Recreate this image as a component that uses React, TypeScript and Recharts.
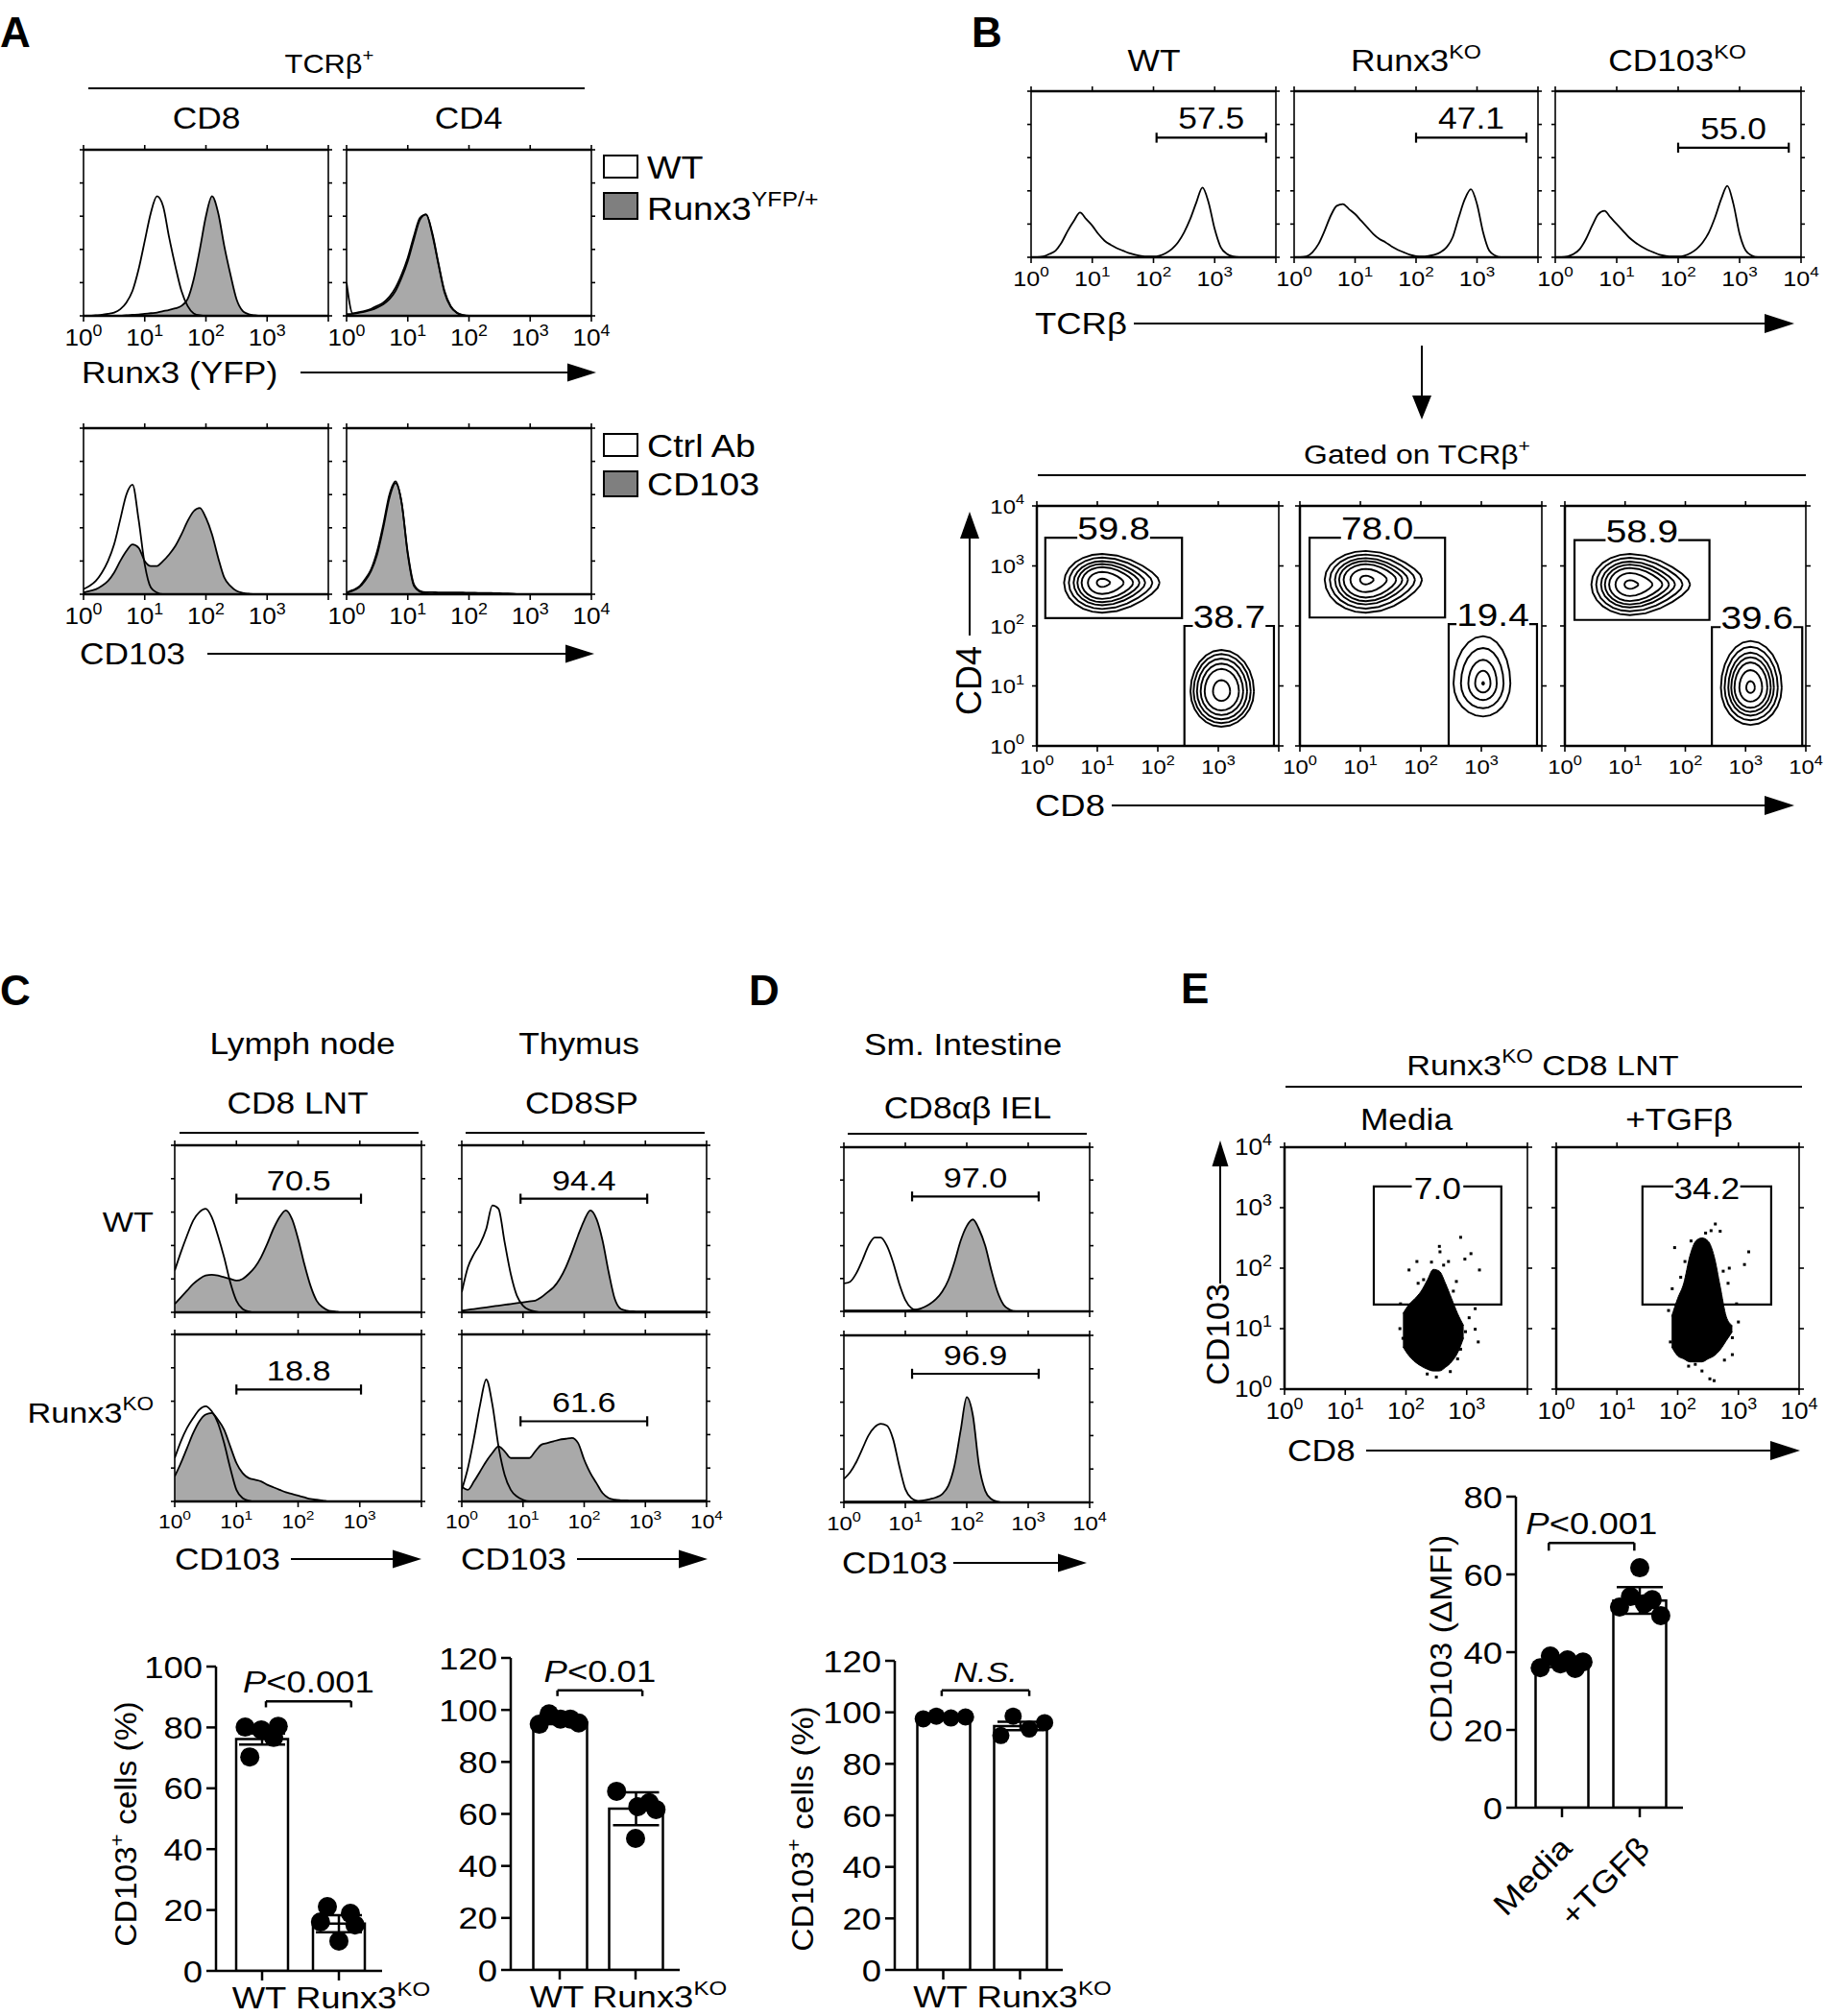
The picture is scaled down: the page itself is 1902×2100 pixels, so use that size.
import React from 'react'
import {
  ComposedChart,
  Area,
  Scatter,
  Bar,
  ErrorBar,
  XAxis,
  YAxis,
  ReferenceLine,
  ReferenceArea,
} from 'recharts'

const FF = '"Liberation Sans", Arial, Helvetica, sans-serif'
const GRAY = '#a9a9a9'
const LEGEND_GRAY = '#7f7f7f'
// the figure's lettering is set a little wider than Arial
const SX = 1.14

// shared x grid for the histograms, in log10 decades (10^0 .. 10^4)
const LOGX = [0, 0.1, 0.2, 0.3, 0.4, 0.5, 0.6, 0.7, 0.8, 0.9, 1, 1.1, 1.2, 1.3, 1.4, 1.5, 1.6, 1.7, 1.8, 1.9, 2, 2.1, 2.2, 2.3, 2.4, 2.5, 2.6, 2.7, 2.8, 2.9, 3, 3.1, 3.2, 3.3, 3.4, 3.5, 3.6, 3.7, 3.8, 3.9, 4]
const DECADES = [0, 1, 2, 3, 4]
const HIST_YT = [0, 0.2, 0.4, 0.6, 0.8, 1]

// panel A, histograms (fraction of plot height)
const A_TOP_CD8_WT = [0, 0, 0.003, 0.006, 0.012, 0.02, 0.04, 0.08, 0.15, 0.28, 0.45, 0.62, 0.72, 0.66, 0.47, 0.3, 0.15, 0.06, 0.015, 0.003, 0]
const A_TOP_CD8_YFP = [0, 0, 0, 0, 0, 0, 0, 0.004, 0.006, 0.008, 0.012, 0.016, 0.02, 0.028, 0.036, 0.045, 0.06, 0.1, 0.22, 0.4, 0.6, 0.72, 0.62, 0.42, 0.25, 0.1, 0.03, 0.01, 0.003, 0]
const A_TOP_CD4_WT = [0.2, 0.015, 0.022, 0.03, 0.042, 0.06, 0.08, 0.115, 0.17, 0.25, 0.35, 0.48, 0.59, 0.61, 0.49, 0.31, 0.14, 0.055, 0.018, 0.004, 0]
const A_TOP_CD4_YFP = [0.01, 0.012, 0.018, 0.025, 0.035, 0.05, 0.07, 0.1, 0.15, 0.23, 0.33, 0.46, 0.58, 0.61, 0.5, 0.32, 0.15, 0.06, 0.02, 0.005, 0]
const A_BOT_CD8_CTRL = [0.03, 0.05, 0.08, 0.13, 0.2, 0.3, 0.45, 0.6, 0.66, 0.45, 0.18, 0.04, 0.01, 0]
const A_BOT_CD8_CD103 = [0.01, 0.02, 0.03, 0.05, 0.08, 0.13, 0.2, 0.26, 0.3, 0.28, 0.2, 0.17, 0.17, 0.2, 0.24, 0.29, 0.36, 0.44, 0.5, 0.52, 0.46, 0.36, 0.22, 0.1, 0.05, 0.02, 0.008, 0.003, 0]
const A_BOT_CD4_CTRL = [0.01, 0.025, 0.045, 0.09, 0.15, 0.26, 0.42, 0.6, 0.68, 0.55, 0.24, 0.05, 0.015, 0.005, 0]
const A_BOT_CD4_CD103 = [0.01, 0.02, 0.04, 0.08, 0.14, 0.24, 0.4, 0.58, 0.67, 0.55, 0.25, 0.06, 0.02, 0.012, 0.012, 0.011, 0.011, 0.01, 0.01, 0.01, 0.009, 0.009, 0.008, 0.008, 0.007, 0.006, 0.005, 0.004, 0]

// panel B, TCRb histograms
const B_WT = [0, 0, 0.005, 0.02, 0.04, 0.09, 0.16, 0.22, 0.27, 0.23, 0.19, 0.14, 0.1, 0.075, 0.055, 0.04, 0.025, 0.015, 0.008, 0.005, 0.005, 0.01, 0.025, 0.05, 0.09, 0.15, 0.23, 0.33, 0.42, 0.33, 0.17, 0.06, 0.02, 0.005, 0]
const B_KO = [0, 0, 0.005, 0.03, 0.08, 0.16, 0.25, 0.31, 0.32, 0.29, 0.26, 0.22, 0.18, 0.14, 0.11, 0.09, 0.065, 0.045, 0.03, 0.015, 0.007, 0.005, 0.008, 0.015, 0.03, 0.06, 0.12, 0.24, 0.35, 0.41, 0.32, 0.15, 0.04, 0.01, 0]
const B_CD103KO = [0, 0, 0.005, 0.02, 0.05, 0.11, 0.19, 0.26, 0.28, 0.24, 0.2, 0.16, 0.12, 0.09, 0.065, 0.045, 0.03, 0.015, 0.008, 0.005, 0.005, 0.01, 0.025, 0.05, 0.09, 0.15, 0.24, 0.35, 0.43, 0.32, 0.14, 0.04, 0.01, 0]

// panel B, CD4/CD8 contour populations (log10 units) and ring scales
const B1_CD4 = { cx: 1.08, cy: 2.72, L: 0.63, R: 0.95, U: 0.48, D: 0.5, tip: 0.35 }
const B1_CD8 = { cx: 3.05, cy: 0.91, L: 0.51, R: 0.54, U: 0.69, D: 0.59, tip: 0 }
const B2_CD4 = { cx: 1.09, cy: 2.77, L: 0.68, R: 0.93, U: 0.48, D: 0.55, tip: 0.35 }
const B2_CD8 = { cx: 3.03, cy: 1.04, L: 0.49, R: 0.45, U: 0.79, D: 0.55, tip: 0 }
const B3_CD4 = { cx: 1.08, cy: 2.69, L: 0.64, R: 1.0, U: 0.51, D: 0.51, tip: 0.4 }
const B3_CD8 = { cx: 3.08, cy: 0.97, L: 0.49, R: 0.52, U: 0.78, D: 0.62, tip: 0 }
const RINGS7 = [1, 0.875, 0.75, 0.65, 0.54, 0.375, 0.14]
const RINGS6 = [1, 0.9, 0.79, 0.67, 0.54, 0.27]
const RINGS4 = [1, 0.75, 0.5, 0.27, 0.03]
const RING_ANGLES = [0, 15, 30, 45, 60, 75, 90, 105, 120, 135, 150, 165, 180, 195, 210, 225, 240, 255, 270, 285, 300, 315, 330, 345]

// panel C histograms
const C_LN_WT_CTRL = [0.25, 0.36, 0.46, 0.55, 0.6, 0.62, 0.57, 0.46, 0.33, 0.18, 0.07, 0.02, 0.005, 0]
const C_LN_WT_CD103 = [0.05, 0.09, 0.13, 0.17, 0.2, 0.22, 0.225, 0.22, 0.21, 0.2, 0.19, 0.2, 0.23, 0.27, 0.33, 0.41, 0.5, 0.57, 0.61, 0.56, 0.44, 0.29, 0.16, 0.07, 0.03, 0.01, 0.005, 0]
const C_LN_KO_CTRL = [0.26, 0.36, 0.44, 0.5, 0.55, 0.57, 0.54, 0.47, 0.35, 0.2, 0.07, 0.02, 0.005, 0]
const C_LN_KO_CD103 = [0.15, 0.23, 0.32, 0.41, 0.48, 0.52, 0.53, 0.49, 0.43, 0.33, 0.23, 0.17, 0.14, 0.13, 0.12, 0.1, 0.085, 0.07, 0.055, 0.045, 0.035, 0.025, 0.015, 0.01, 0.005, 0]
const C_TH_WT_CTRL = [0.12, 0.27, 0.35, 0.41, 0.5, 0.64, 0.62, 0.42, 0.23, 0.1, 0.04, 0.015, 0.005, 0]
const C_TH_WT_CD103 = [0.01, 0.015, 0.02, 0.025, 0.03, 0.035, 0.04, 0.045, 0.05, 0.055, 0.06, 0.065, 0.07, 0.09, 0.12, 0.15, 0.2, 0.27, 0.36, 0.46, 0.55, 0.61, 0.56, 0.43, 0.24, 0.08, 0.02, 0.01, 0.006, 0.005, 0.005, 0.005, 0.005, 0.005, 0.005, 0.005, 0.005, 0.005, 0.005, 0.005, 0.005]
const C_TH_KO_CTRL = [0.07, 0.2, 0.38, 0.58, 0.73, 0.58, 0.33, 0.16, 0.07, 0.03, 0.01, 0]
const C_TH_KO_CD103 = [0.09, 0.07, 0.12, 0.18, 0.24, 0.29, 0.33, 0.3, 0.26, 0.26, 0.26, 0.26, 0.3, 0.34, 0.35, 0.36, 0.37, 0.375, 0.38, 0.35, 0.25, 0.17, 0.11, 0.05, 0.02, 0.01, 0.007, 0.006, 0.005, 0.005, 0.005, 0.005, 0.005, 0.005, 0.005, 0.005, 0.005, 0.005, 0.005, 0.005, 0.005]

// panel D histograms
const D_WT_CTRL = [0.17, 0.18, 0.23, 0.31, 0.4, 0.45, 0.45, 0.4, 0.3, 0.17, 0.07, 0.02, 0.005, 0]
const D_WT_CD103 = [0.005, 0.005, 0.005, 0.005, 0.005, 0.005, 0.005, 0.005, 0.005, 0.005, 0.005, 0.008, 0.012, 0.025, 0.045, 0.075, 0.12, 0.19, 0.3, 0.43, 0.52, 0.56, 0.5, 0.4, 0.25, 0.12, 0.04, 0.01, 0]
const D_KO_CTRL = [0.14, 0.18, 0.24, 0.32, 0.4, 0.45, 0.47, 0.46, 0.38, 0.22, 0.08, 0.025, 0.008, 0]
const D_KO_CD103 = [0.005, 0.005, 0.005, 0.005, 0.005, 0.005, 0.005, 0.005, 0.005, 0.005, 0.005, 0.005, 0.008, 0.012, 0.02, 0.03, 0.05, 0.1, 0.22, 0.43, 0.63, 0.52, 0.22, 0.07, 0.02, 0.005, 0]

// panel E, dense cores of the dot plots (lower / upper edge per CD8 column) and stray events
const E_MEDIA_X = [1.95, 2.05, 2.15, 2.25, 2.35, 2.45, 2.55, 2.65, 2.75, 2.85, 2.95]
const E_MEDIA_LO = [0.7, 0.55, 0.45, 0.38, 0.33, 0.3, 0.3, 0.36, 0.45, 0.6, 0.85]
const E_MEDIA_HI = [1.25, 1.4, 1.5, 1.62, 1.8, 1.98, 1.95, 1.75, 1.5, 1.25, 1.05]
const E_MEDIA_STRAY = [[2.9, 2.51], [2.56, 2.27], [3.07, 2.24], [3.21, 1.97], [2.18, 2.11], [2.05, 1.97], [2.97, 2.15], [2.7, 2.11], [3.14, 0.99], [3.19, 0.78], [3.14, 1.33], [3.04, 1.18], [2.73, 0.29], [2.39, 0.38], [2.01, 1.08], [1.95, 0.84], [2.09, 1.27], [2.29, 0.41], [2.55, 2.36], [2.83, 1.78], [2.29, 1.81], [2.9, 0.66], [2.66, 0.41], [1.91, 1.41], [2.42, 2.1], [2.62, 2.05], [2.2, 1.75], [2.78, 1.62], [1.9, 1.0], [2.05, 0.62], [2.98, 0.95], [2.5, 0.2], [2.35, 0.25], [2.85, 0.5]]
const E_TGF_X = [1.9, 2.0, 2.1, 2.2, 2.3, 2.4, 2.5, 2.6, 2.7, 2.8, 2.9]
const E_TGF_LO = [0.7, 0.55, 0.5, 0.45, 0.45, 0.45, 0.5, 0.55, 0.65, 0.8, 0.95]
const E_TGF_HI = [1.2, 1.5, 1.75, 2.2, 2.45, 2.5, 2.45, 2.2, 1.7, 1.2, 1.05]
const E_TGF_STRAY = [[1.95, 2.34], [2.62, 2.73], [2.7, 2.61], [3.17, 2.27], [3.1, 2.06], [1.91, 1.66], [3.0, 1.11], [2.9, 0.57], [2.53, 0.17], [2.6, 0.14], [1.95, 1.11], [2.06, 0.66], [2.22, 2.45], [2.12, 2.11], [2.83, 1.75], [2.97, 1.41], [1.88, 0.78], [2.77, 0.48], [2.29, 0.41], [2.46, 2.58], [2.05, 1.85], [1.85, 1.3], [2.85, 2.0], [2.75, 1.95], [1.98, 0.9], [2.9, 0.85], [2.4, 0.3], [2.18, 0.38], [2.55, 2.62], [2.02, 1.45]]

// bar charts
const KO_CATS = ['WT', 'Runx3KO']
const C_LN_MEANS = [76.2, 15.5]
const C_LN_ERR = [1.8, 2.8]
const C_LN_WT = [80.1, 79.2, 80.4, 76.7, 70.3]
const C_LN_WT_JIT = [-0.22, -0.01, 0.21, 0.15, -0.16]
const C_LN_KO = [21.1, 16.1, 18.9, 15.1, 9.8]
const C_LN_KO_JIT = [-0.15, -0.24, 0.15, 0.21, 0]
const C_TH_MEANS = [95.3, 62]
const C_TH_ERR = [0.8, 6.3]
const C_TH_WT = [94.5, 98.5, 96.5, 96.5, 95]
const C_TH_WT_JIT = [-0.27, -0.14, 0.01, 0.14, 0.25]
const C_TH_KO = [68.7, 62.8, 64.3, 61.7, 50.6]
const C_TH_KO_JIT = [-0.25, 0.03, 0.18, 0.27, 0]
const D_MEANS = [97.8, 94.7]
const D_ERR = [0.5, 1.6]
const D_WT = [97.5, 98.5, 97.8, 98.2]
const D_WT_JIT = [-0.26, -0.09, 0.1, 0.29]
const D_KO = [91, 98.5, 93.5, 96]
const D_KO_JIT = [-0.25, -0.09, 0.12, 0.32]
const E_CATS = ['Media', '+TGFβ']
const E_MEANS = [36.8, 53.3]
const E_ERR = [0.6, 3.4]
const E_MEDIA = [36, 39, 37, 38, 35.8, 37.5]
const E_MEDIA_JIT = [-0.28, -0.15, -0.02, 0.07, 0.17, 0.27]
const E_TGF = [51.6, 54.3, 61.7, 52.5, 53.5, 49.4]
const E_TGF_JIT = [-0.26, -0.12, 0, 0.06, 0.16, 0.27]

const AX = { stroke: '#000', strokeWidth: 2.5 }
const AX_THIN = { stroke: '#000', strokeWidth: 1.6 }
const TL = { stroke: '#000', strokeWidth: 1.6 }

const NoTick = () => null
const NoShape = () => null

// stretched text, (x, y) is the anchor on the baseline
function Wide({ x, y, fs, a = 'middle', italic = false, children }: any) {
  return (
    <g transform={`translate(${x} ${y}) scale(${SX} 1)`}>
      <text x={0} y={0} textAnchor={a} fontSize={fs} fontFamily={FF} fontStyle={italic ? 'italic' : 'normal'} fill="#000">
        {children}
      </text>
    </g>
  )
}

function XLogTick(props: any) {
  const { x, y, payload, fs = 22, hide, hideLast } = props
  if (hide || (hideLast && payload.value === 4)) return null
  return (
    <Wide x={x} y={y + fs} fs={fs}>
      10<tspan dy={-fs * 0.45} fontSize={fs * 0.68}>{payload.value}</tspan>
    </Wide>
  )
}

function YLogTick(props: any) {
  const { x, y, payload, fs = 21 } = props
  return (
    <Wide x={x - 6} y={y + fs * 0.36} fs={fs} a="end">
      10<tspan dy={-fs * 0.45} fontSize={fs * 0.68}>{payload.value}</tspan>
    </Wide>
  )
}

function NumTick(props: any) {
  const { x, y, payload } = props
  return (
    <Wide x={x} y={y + 32 * 0.36} fs={32} a="end">
      {payload.value}
    </Wide>
  )
}

const barLabel = (text: string, fs: number) => (p: any) => {
  const vb = p.viewBox || {}
  return (
    <Wide x={(vb.x ?? 0) + (vb.width ?? 0) / 2} y={(vb.y ?? 0) - 9} fs={fs}>
      {text}
    </Wide>
  )
}

// gate number sitting on the top edge of a gate, the edge is broken under it
const boxLabel = (text: string, fs: number, lift: number) => (p: any) => {
  const vb = p.viewBox || {}
  const cx = (vb.x ?? 0) + (vb.width ?? 0) / 2
  const edge = vb.y ?? 0
  const tw = text.length * fs * 0.45 * SX + 6
  return (
    <g>
      <rect x={cx - tw / 2} y={edge - 4} width={tw} height={8} fill="#fff" />
      <Wide x={cx} y={edge - lift + fs * 0.358} fs={fs}>
        {text}
      </Wide>
    </g>
  )
}

const sigLabel = (kind: string) => (p: any) => {
  const vb = p.viewBox || {}
  const cx = (vb.x ?? 0) + (vb.width ?? 0) / 2
  const y = (vb.y ?? 0) - 9
  if (kind === 'NS') {
    return (
      <Wide x={cx} y={y} fs={30} italic>
        N.S.
      </Wide>
    )
  }
  return (
    <Wide x={cx} y={y} fs={32}>
      <tspan fontStyle="italic">P</tspan>
      {kind}
    </Wide>
  )
}

function Hist({ left, top, w, h, open, filled, gate, labels = 'all', fs = 22, gfs = 31 }: any) {
  const rows = LOGX.map((x, i) => ({ x, open: open ? open[i] ?? 0 : 0, filled: filled ? filled[i] ?? 0 : 0 }))
  const P = 10
  const EX = 30
  const MB = 46
  const cap = 0.03
  return (
    <div style={{ position: 'absolute', left: left - P - EX, top: top - P }}>
      <ComposedChart width={w + 2 * P + 2 * EX} height={h + P + MB} data={rows} margin={{ top: 0, right: EX, bottom: 0, left: EX }}>
        <XAxis xAxisId="b" dataKey="x" type="number" domain={[0, 4]} ticks={DECADES} interval={0} height={MB} axisLine={AX} tickLine={TL} tickSize={6} allowDataOverflow tick={<XLogTick fs={fs} hide={labels === 'none'} hideLast={labels === 'noLast'} />} />
        <XAxis xAxisId="t" orientation="top" dataKey="x" type="number" domain={[0, 4]} ticks={DECADES} interval={0} height={P} axisLine={AX} tickLine={TL} tickSize={5} allowDataOverflow tick={<NoTick />} />
        <YAxis yAxisId="l" type="number" domain={[0, 1]} ticks={HIST_YT} interval={0} width={P} axisLine={AX_THIN} tickLine={TL} tickSize={4} allowDataOverflow tick={<NoTick />} />
        <YAxis yAxisId="r" orientation="right" type="number" domain={[0, 1]} ticks={HIST_YT} interval={0} width={P} axisLine={AX_THIN} tickLine={TL} tickSize={4} allowDataOverflow tick={<NoTick />} />
        {filled && (
          <Area xAxisId="b" yAxisId="l" type="monotone" dataKey="filled" fill={GRAY} fillOpacity={1} stroke="#000" strokeWidth={1.8} dot={false} activeDot={false} isAnimationActive={false} />
        )}
        {open && (
          <Area xAxisId="b" yAxisId="l" type="monotone" dataKey="open" fill="none" stroke="#000" strokeWidth={1.8} dot={false} activeDot={false} isAnimationActive={false} />
        )}
        {gate && (
          <ReferenceLine xAxisId="b" yAxisId="l" segment={[{ x: gate.x1, y: gate.y }, { x: gate.x2, y: gate.y }]} stroke="#000" strokeWidth={2.2} label={barLabel(gate.label, gfs)} />
        )}
        {gate && (
          <ReferenceLine xAxisId="b" yAxisId="l" segment={[{ x: gate.x1, y: gate.y - cap }, { x: gate.x1, y: gate.y + cap }]} stroke="#000" strokeWidth={2.2} />
        )}
        {gate && (
          <ReferenceLine xAxisId="b" yAxisId="l" segment={[{ x: gate.x2, y: gate.y - cap }, { x: gate.x2, y: gate.y + cap }]} stroke="#000" strokeWidth={2.2} />
        )}
      </ComposedChart>
    </div>
  )
}

function ringPoints(p: any, s: number) {
  const pts = RING_ANGLES.map((a) => {
    const t = (a * Math.PI) / 180
    const c = Math.cos(t)
    const sn = Math.sin(t)
    const taper = 1 - p.tip * Math.max(0, c) * Math.max(0, c)
    return { x: p.cx + c * (c >= 0 ? p.R : p.L) * s, y: p.cy + sn * (sn >= 0 ? p.U : p.D) * s * taper }
  })
  return [...pts, pts[0]]
}

function Biv({ left, top, w, h, yLabels, labels = 'all', gates, pops, core, stray, fs = 21, gfs = 34, lift = 10 }: any) {
  const P = 10
  const EX = 30
  const MT = 20
  const YW = yLabels ? 62 : P
  const ML = yLabels ? 0 : EX
  const MB = 46
  const rows = core ? core.x.map((x: number, i: number) => ({ x, r: [core.lo[i], core.hi[i]] })) : []
  const strayPts = (stray || []).map((d: number[]) => ({ x: d[0], y: d[1] }))
  return (
    <div style={{ position: 'absolute', left: left - YW - ML, top: top - P - MT }}>
      <ComposedChart width={w + YW + ML + P + EX} height={h + P + MB + MT} data={rows} margin={{ top: MT, right: EX, bottom: 0, left: ML }}>
        <XAxis xAxisId="b" dataKey="x" type="number" domain={[0, 4]} ticks={DECADES} interval={0} height={MB} axisLine={AX} tickLine={TL} tickSize={6} allowDataOverflow tick={<XLogTick fs={fs} hideLast={labels === 'noLast'} />} />
        <XAxis xAxisId="t" orientation="top" dataKey="x" type="number" domain={[0, 4]} ticks={DECADES} interval={0} height={P} axisLine={AX} tickLine={TL} tickSize={5} allowDataOverflow tick={<NoTick />} />
        <YAxis yAxisId="l" dataKey="y" type="number" domain={[0, 4]} ticks={DECADES} interval={0} width={YW} axisLine={AX} tickLine={TL} tickSize={5} allowDataOverflow tick={yLabels ? <YLogTick fs={fs} /> : <NoTick />} />
        <YAxis yAxisId="r" orientation="right" type="number" domain={[0, 4]} ticks={DECADES} interval={0} width={P} axisLine={AX_THIN} tickLine={TL} tickSize={5} allowDataOverflow tick={<NoTick />} />
        {core && (
          <Area xAxisId="b" yAxisId="l" type="monotone" dataKey="r" fill="#000" fillOpacity={1} stroke="#000" strokeWidth={1} dot={false} activeDot={false} isAnimationActive={false} />
        )}
        {stray && (
          <Scatter xAxisId="b" yAxisId="l" data={strayPts} isAnimationActive={false} shape={(d: any) => <rect x={d.cx - 1.5} y={d.cy - 1.5} width={3} height={3} fill="#000" />} />
        )}
        {(pops || []).map((pp: any, k: number) =>
          pp.scales.map((s: number, j: number) => (
            <Scatter key={`${k}-${j}`} xAxisId="b" yAxisId="l" data={ringPoints(pp.pop, s)} line={{ stroke: '#000', strokeWidth: 1.9 }} lineType="joint" shape={<NoShape />} isAnimationActive={false} />
          ))
        )}
        {gates.map((g: any, i: number) => (
          <ReferenceArea key={i} xAxisId="b" yAxisId="l" x1={g.x1} x2={g.x2} y1={g.y1} y2={g.y2} fill="none" fillOpacity={0} stroke="#000" strokeWidth={2.2} ifOverflow="visible" label={boxLabel(g.label, gfs, lift)} />
        ))}
      </ComposedChart>
    </div>
  )
}

function CatTick(props: any) {
  const { x, y, payload, mode } = props
  const s = 32
  const v = payload.value as string
  if (mode === 'rot') {
    const bx = x + 12
    const by = y + 32
    return (
      <g transform={`translate(${bx} ${by}) rotate(-45) scale(${SX} 1)`}>
        <text x={0} y={0} textAnchor="end" fontSize={s} fontFamily={FF} fill="#000">
          {v}
        </text>
      </g>
    )
  }
  if (v === 'WT') {
    return (
      <Wide x={x - 3} y={y + 27} fs={s}>
        WT
      </Wide>
    )
  }
  return (
    <Wide x={x - 45} y={y + 27} fs={s} a="start">
      Runx3<tspan dy={-s * 0.42} fontSize={s * 0.66}>KO</tspan>
    </Wide>
  )
}

function BarPanel({ left, top, w, h, max, ticks, cats, means, errs, groups, pad, barSize = 55, r = 10, bracket, mode }: any) {
  const YW = 90
  const MT = 20
  const MR = 110
  const XH = mode === 'rot' ? 150 : 80
  const rows = cats.map((c: string, i: number) => ({ name: c, mean: means[i], err: errs[i] }))
  const dots: any[] = []
  groups.forEach((g: any, i: number) => g.vals.forEach((v: number, j: number) => dots.push({ x: i + g.jit[j], y: v })))
  const pd = { left: pad[0], right: pad[1] }
  const b = bracket
  return (
    <div style={{ position: 'absolute', left: left - YW, top: top - MT }}>
      <ComposedChart width={YW + w + MR} height={MT + h + XH} data={rows} margin={{ top: MT, right: MR, bottom: 0, left: 0 }}>
        <XAxis xAxisId="c" dataKey="name" type="category" padding={pd} height={XH} axisLine={AX} tickLine={{ stroke: '#000', strokeWidth: 2.5 }} tickSize={10} interval={0} tick={<CatTick mode={mode} />} />
        <XAxis xAxisId="n" dataKey="x" type="number" domain={[-0.5, 1.5]} padding={pd} hide allowDataOverflow />
        <YAxis yAxisId="l" type="number" domain={[0, max]} ticks={ticks} interval={0} width={YW} axisLine={AX} tickLine={{ stroke: '#000', strokeWidth: 2.5 }} tickSize={10} tickMargin={4} allowDataOverflow tick={<NumTick />} />
        <Bar xAxisId="c" yAxisId="l" dataKey="mean" barSize={barSize} fill="#fff" stroke="#000" strokeWidth={2.5} isAnimationActive={false}>
          <ErrorBar dataKey="err" width={24} stroke="#000" strokeWidth={2.5} direction="y" />
        </Bar>
        <Scatter xAxisId="n" yAxisId="l" data={dots} dataKey="y" isAnimationActive={false} shape={(d: any) => <circle cx={d.cx} cy={d.cy} r={r} fill="#000" />} />
        <ReferenceLine xAxisId="n" yAxisId="l" segment={[{ x: b.x1, y: b.y }, { x: b.x2, y: b.y }]} stroke="#000" strokeWidth={2.5} label={sigLabel(b.text)} ifOverflow="visible" />
        <ReferenceLine xAxisId="n" yAxisId="l" segment={[{ x: b.x1, y: b.y }, { x: b.x1, y: b.y - b.drop }]} stroke="#000" strokeWidth={2.5} ifOverflow="visible" />
        <ReferenceLine xAxisId="n" yAxisId="l" segment={[{ x: b.x2, y: b.y }, { x: b.x2, y: b.y - b.drop }]} stroke="#000" strokeWidth={2.5} ifOverflow="visible" />
      </ComposedChart>
    </div>
  )
}

// text whose y is the vertical centre of the capitals
function T({ x, y, s = 31, a = 'middle', bold = false, rot = 0, sx = SX, children }: any) {
  return (
    <g transform={`translate(${x} ${y}) rotate(${rot}) scale(${sx} 1)`}>
      <text x={0} y={s * 0.358} fontSize={s} textAnchor={a} fontFamily={FF} fontWeight={bold ? 700 : 400} fill="#000">
        {children}
      </text>
    </g>
  )
}

const Sup = ({ s, children }: any) => (
  <tspan dy={-s * 0.42} fontSize={s * 0.66}>
    {children}
  </tspan>
)

function Arrow({ x1, y1, x2, y2, head = 30, half = 9.5, sw = 2 }: any) {
  const dx = x2 - x1
  const dy = y2 - y1
  const L = Math.hypot(dx, dy)
  const ux = dx / L
  const uy = dy / L
  const bx = x2 - ux * head
  const by = y2 - uy * head
  return (
    <g>
      <line x1={x1} y1={y1} x2={bx} y2={by} stroke="#000" strokeWidth={sw} />
      <polygon points={`${x2},${y2} ${bx - uy * half},${by + ux * half} ${bx + uy * half},${by - ux * half}`} fill="#000" />
    </g>
  )
}

const Rule = ({ x1, x2, y }: any) => <line x1={x1} x2={x2} y1={y} y2={y} stroke="#000" strokeWidth={2} />

function Overlay() {
  return (
    <svg width={1902} height={2100} style={{ position: 'absolute', left: 0, top: 0, pointerEvents: 'none' }}>
      {/* A */}
      <T x={0} y={33} s={44} a="start" bold sx={1}>A</T>
      <T x={343} y={66} s={27}>TCRβ<Sup s={27}>+</Sup></T>
      <Rule x1={92} x2={609} y={92} />
      <T x={215} y={123}>CD8</T>
      <T x={488} y={123}>CD4</T>
      <T x={85} y={388} a="start">Runx3 (YFP)</T>
      <Arrow x1={313} y1={388} x2={621} y2={388} />
      <rect x={629} y={162} width={35} height={23} fill="#fff" stroke="#000" strokeWidth={2} />
      <T x={674} y={174} s={33} a="start">WT</T>
      <rect x={629} y={201} width={35} height={27} fill={LEGEND_GRAY} stroke="#000" strokeWidth={2} />
      <T x={674} y={217} s={33} a="start">Runx3<Sup s={33}>YFP/+</Sup></T>
      <rect x={629} y={452} width={35} height={23} fill="#fff" stroke="#000" strokeWidth={2} />
      <T x={674} y={464} s={33} a="start">Ctrl Ab</T>
      <rect x={629} y={491} width={35} height={26} fill={LEGEND_GRAY} stroke="#000" strokeWidth={2} />
      <T x={674} y={504} s={33} a="start">CD103</T>
      <T x={83} y={681} a="start">CD103</T>
      <Arrow x1={216} y1={681} x2={619} y2={681} />

      {/* B */}
      <T x={1012} y={33} s={44} a="start" bold sx={1}>B</T>
      <T x={1202} y={63}>WT</T>
      <T x={1475} y={63}>Runx3<Sup s={31}>KO</Sup></T>
      <T x={1747} y={63}>CD103<Sup s={31}>KO</Sup></T>
      <T x={1078} y={337} s={32} a="start">TCRβ</T>
      <Arrow x1={1181} y1={337} x2={1869} y2={337} head={31} half={10} />
      <Arrow x1={1481} y1={360} x2={1481} y2={437} head={25} half={10} />
      <T x={1476} y={473} s={28}>Gated on TCRβ<Sup s={28}>+</Sup></T>
      <Rule x1={1081} x2={1881} y={495} />
      <T x={1009} y={709} s={36} rot={-90} sx={1}>CD4</T>
      <Arrow x1={1010} y1={662} x2={1010} y2={533} head={28} half={10} />
      <T x={1078} y={839} s={32} a="start">CD8</T>
      <Arrow x1={1158} y1={839} x2={1869} y2={839} head={31} half={10} />

      {/* C */}
      <T x={0} y={1031} s={44} a="start" bold sx={1}>C</T>
      <T x={315} y={1087}>Lymph node</T>
      <T x={603} y={1087}>Thymus</T>
      <T x={310} y={1149}>CD8 LNT</T>
      <T x={606} y={1149}>CD8SP</T>
      <Rule x1={187} x2={436} y={1180} />
      <Rule x1={485} x2={734} y={1180} />
      <T x={160} y={1272} s={30} a="end">WT</T>
      <T x={160} y={1471} s={30} a="end">Runx3<Sup s={30}>KO</Sup></T>
      <T x={182} y={1624} a="start">CD103</T>
      <Arrow x1={303} y1={1624} x2={439} y2={1624} />
      <T x={480} y={1624} a="start">CD103</T>
      <Arrow x1={601} y1={1624} x2={737} y2={1624} />
      <T x={131} y={1900} s={32} rot={-90} sx={1.05}>CD103<Sup s={32}>+</Sup><tspan dy={32 * 0.42}> cells (%)</tspan></T>

      {/* D */}
      <T x={780} y={1031} s={44} a="start" bold sx={1}>D</T>
      <T x={1003} y={1088}>Sm. Intestine</T>
      <T x={1008} y={1154}>CD8αβ IEL</T>
      <Rule x1={883} x2={1132} y={1181} />
      <T x={877} y={1628} a="start">CD103</T>
      <Arrow x1={993} y1={1628} x2={1132} y2={1628} />
      <T x={836} y={1905} s={32} rot={-90} sx={1.05}>CD103<Sup s={32}>+</Sup><tspan dy={32 * 0.42}> cells (%)</tspan></T>

      {/* E */}
      <T x={1230} y={1029} s={44} a="start" bold sx={1}>E</T>
      <T x={1607} y={1109} s={30}>Runx3<Sup s={30}>KO</Sup><tspan dy={30 * 0.42}> CD8 LNT</tspan></T>
      <Rule x1={1339} x2={1877} y={1132} />
      <T x={1465} y={1166}>Media</T>
      <T x={1749} y={1166}>+TGFβ</T>
      <T x={1268} y={1390} s={34} rot={-90} sx={1}>CD103</T>
      <Arrow x1={1271} y1={1337} x2={1271} y2={1188} head={27} half={8.5} />
      <T x={1341} y={1511} a="start">CD8</T>
      <Arrow x1={1423} y1={1511} x2={1875} y2={1511} head={31} half={10} />
      <T x={1501} y={1707} s={32} rot={-90} sx={1.05}>CD103 (ΔMFI)</T>
    </svg>
  )
}

export default function App() {
  return (
    <div style={{ position: 'absolute', left: 0, top: 0, width: 1902, height: 2100, background: '#fff', overflow: 'hidden' }}>
      {/* A */}
      <Hist left={87} top={156} w={255} h={173} filled={A_TOP_CD8_YFP} open={A_TOP_CD8_WT} labels="noLast" fs={23} />
      <Hist left={361} top={156} w={255} h={173} filled={A_TOP_CD4_YFP} open={A_TOP_CD4_WT} fs={23} />
      <Hist left={87} top={446} w={255} h={173} filled={A_BOT_CD8_CD103} open={A_BOT_CD8_CTRL} labels="noLast" fs={23} />
      <Hist left={361} top={446} w={255} h={173} filled={A_BOT_CD4_CD103} open={A_BOT_CD4_CTRL} fs={23} />

      {/* B */}
      <Hist left={1074} top={95} w={255} h={173} open={B_WT} labels="noLast" gate={{ x1: 2.05, x2: 3.84, y: 0.72, label: '57.5' }} />
      <Hist left={1348} top={95} w={254} h={173} open={B_KO} labels="noLast" gate={{ x1: 2.0, x2: 3.81, y: 0.72, label: '47.1' }} />
      <Hist left={1620} top={95} w={256} h={173} open={B_CD103KO} gate={{ x1: 2.0, x2: 3.8, y: 0.66, label: '55.0' }} />
      <Biv left={1080} top={527} w={252} h={250} yLabels labels="noLast"
        pops={[{ pop: B1_CD4, scales: RINGS7 }, { pop: B1_CD8, scales: RINGS6 }]}
        gates={[{ x1: 0.14, x2: 2.4, y1: 2.13, y2: 3.47, label: '59.8' }, { x1: 2.44, x2: 3.92, y1: 0, y2: 2.0, label: '38.7' }]} />
      <Biv left={1354} top={527} w={252} h={250} labels="noLast"
        pops={[{ pop: B2_CD4, scales: RINGS7 }, { pop: B2_CD8, scales: RINGS4 }]}
        gates={[{ x1: 0.16, x2: 2.4, y1: 2.14, y2: 3.47, label: '78.0' }, { x1: 2.46, x2: 3.92, y1: 0, y2: 2.03, label: '19.4' }]} />
      <Biv left={1630} top={527} w={251} h={250}
        pops={[{ pop: B3_CD4, scales: RINGS7 }, { pop: B3_CD8, scales: RINGS7 }]}
        gates={[{ x1: 0.16, x2: 2.4, y1: 2.1, y2: 3.43, label: '58.9' }, { x1: 2.44, x2: 3.94, y1: 0, y2: 1.98, label: '39.6' }]} />

      {/* C */}
      <Hist left={182} top={1193} w={257} h={174} filled={C_LN_WT_CD103} open={C_LN_WT_CTRL} labels="none" gfs={30} gate={{ x1: 1.0, x2: 3.02, y: 0.68, label: '70.5' }} />
      <Hist left={182} top={1390} w={257} h={174} filled={C_LN_KO_CD103} open={C_LN_KO_CTRL} labels="noLast" fs={20} gfs={30} gate={{ x1: 1.0, x2: 3.02, y: 0.67, label: '18.8' }} />
      <Hist left={481} top={1193} w={255} h={174} filled={C_TH_WT_CD103} open={C_TH_WT_CTRL} labels="none" gfs={30} gate={{ x1: 0.96, x2: 3.03, y: 0.68, label: '94.4' }} />
      <Hist left={481} top={1390} w={255} h={174} filled={C_TH_KO_CD103} open={C_TH_KO_CTRL} fs={20} gfs={30} gate={{ x1: 0.96, x2: 3.03, y: 0.48, label: '61.6' }} />
      <BarPanel left={225} top={1736} w={173} h={317} max={100} ticks={[0, 20, 40, 60, 80, 100]} cats={KO_CATS} means={C_LN_MEANS} errs={C_LN_ERR}
        groups={[{ vals: C_LN_WT, jit: C_LN_WT_JIT }, { vals: C_LN_KO, jit: C_LN_KO_JIT }]} pad={[8, 5]} barSize={54}
        bracket={{ x1: 0.05, x2: 1.16, y: 88.6, drop: 2, text: '<0.001' }} />
      <BarPanel left={532} top={1727} w={176} h={325} max={120} ticks={[0, 20, 40, 60, 80, 100, 120]} cats={KO_CATS} means={C_TH_MEANS} errs={C_TH_ERR}
        groups={[{ vals: C_TH_WT, jit: C_TH_WT_JIT }, { vals: C_TH_KO, jit: C_TH_KO_JIT }]} pad={[11.5, 6.5]} barSize={56}
        bracket={{ x1: -0.03, x2: 1.09, y: 107.5, drop: 2.2, text: '<0.01' }} />

      {/* D */}
      <Hist left={879} top={1195} w={256} h={171} filled={D_WT_CD103} open={D_WT_CTRL} labels="none" gfs={30} gate={{ x1: 1.11, x2: 3.17, y: 0.7, label: '97.0' }} />
      <Hist left={879} top={1391} w={256} h={174} filled={D_KO_CD103} open={D_KO_CTRL} fs={21} gfs={30} gate={{ x1: 1.11, x2: 3.17, y: 0.77, label: '96.9' }} />
      <BarPanel left={932} top={1730} w={175} h={322} max={120} ticks={[0, 20, 40, 60, 80, 100, 120]} cats={KO_CATS} means={D_MEANS} errs={D_ERR}
        groups={[{ vals: D_WT, jit: D_WT_JIT }, { vals: D_KO, jit: D_KO_JIT }]} pad={[10.5, 4.5]} barSize={55} r={9}
        bracket={{ x1: -0.02, x2: 1.12, y: 108.5, drop: 2.2, text: 'NS' }} />

      {/* E */}
      <Biv left={1338} top={1195} w={253} h={252} yLabels labels="noLast" fs={23} gfs={31} lift={-2}
        core={{ x: E_MEDIA_X, lo: E_MEDIA_LO, hi: E_MEDIA_HI }} stray={E_MEDIA_STRAY}
        gates={[{ x1: 1.47, x2: 3.57, y1: 1.4, y2: 3.35, label: '7.0' }]} />
      <Biv left={1621} top={1195} w={253} h={252} fs={23} gfs={31} lift={-2}
        core={{ x: E_TGF_X, lo: E_TGF_LO, hi: E_TGF_HI }} stray={E_TGF_STRAY}
        gates={[{ x1: 1.42, x2: 3.54, y1: 1.4, y2: 3.35, label: '34.2' }]} />
      <BarPanel left={1579} top={1559} w={174} h={324} max={80} ticks={[0, 20, 40, 60, 80]} cats={E_CATS} means={E_MEANS} errs={E_ERR}
        groups={[{ vals: E_MEDIA, jit: E_MEDIA_JIT }, { vals: E_TGF, jit: E_TGF_JIT }]} pad={[7.5, 4.5]} barSize={55} mode="rot"
        bracket={{ x1: -0.17, x2: 0.93, y: 68.1, drop: 2, text: '<0.001' }} />

      <Overlay />
    </div>
  )
}
